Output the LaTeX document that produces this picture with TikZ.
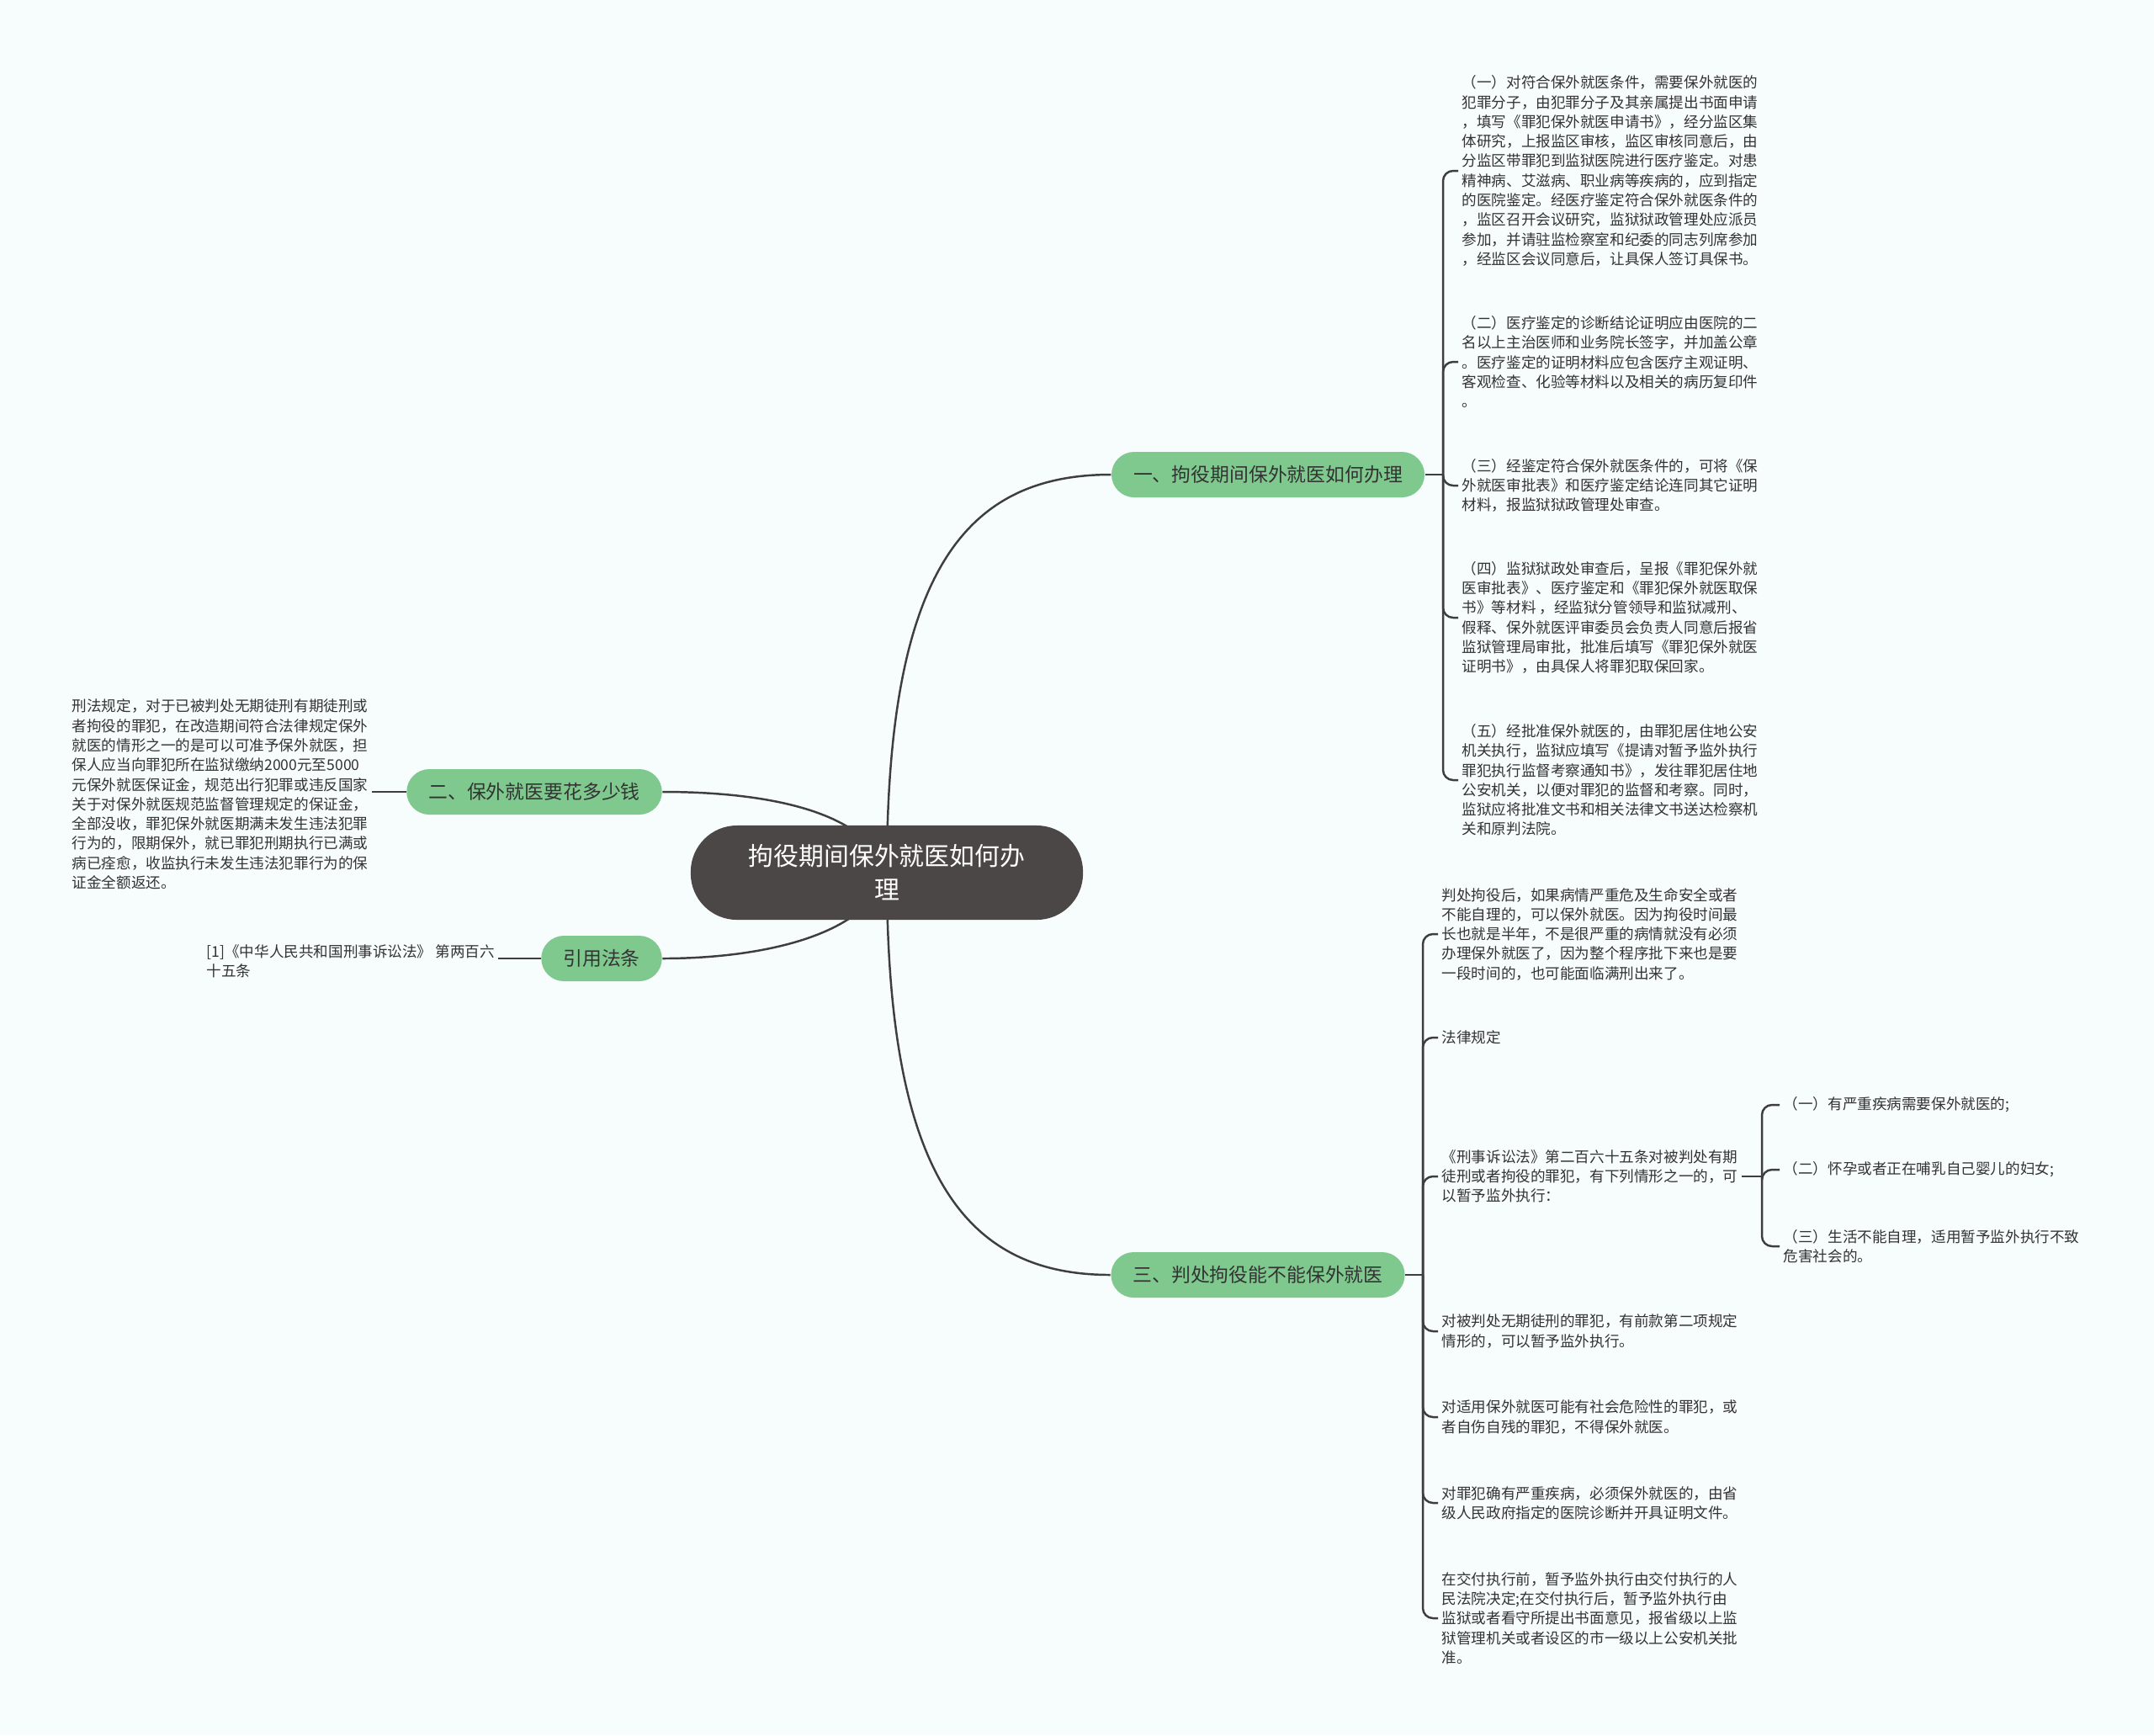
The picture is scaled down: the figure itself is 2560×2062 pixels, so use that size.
\documentclass[tikz,border=0pt]{standalone}
\usepackage{fontspec}
\setmainfont{Noto Sans CJK SC}
\usepackage{tikz}
\usepackage{xcolor}
\definecolor{paperWhite}{RGB}{247,252,253}
\definecolor{rootGray}{RGB}{76,71,71}
\definecolor{topicGreen}{RGB}{127,201,143}
\definecolor{darkText}{RGB}{51,51,51}
\definecolor{linkGray}{RGB}{62,62,62}
\pgfdeclarelayer{paper}
\pgfdeclarelayer{links}
\pgfsetlayers{paper,links,main}
\tikzset{
    rootnode/.style={
        rectangle,
        fill=rootGray,
        rounded corners=0.55cm,
        align=center,
        text=white,
        minimum width=4.66cm,
        minimum height=1.12cm,
        font=\fontsize{8.5pt}{11.4pt}\selectfont
    },
    topic/.style={
        rectangle,
        fill=topicGreen,
        rounded corners=0.27cm,
        align=center,
        text=darkText,
        inner xsep=0.26cm,
        minimum height=0.54cm,
        font=\fontsize{6.5pt}{8pt}\selectfont
    },
    leaf/.style={
        anchor=west,
        align=left,
        inner xsep=0.04cm,
        inner ysep=0pt,
        text=darkText,
        font=\fontsize{5pt}{6.62pt}\selectfont
    },
    link/.style={draw=linkGray, line width=0.7pt},
    brace/.style={link, rounded corners=0.12cm}
}

\begin{document}
\begin{tikzpicture}[x=0.01cm, y=-0.01cm]
    \begin{pgfonlayer}{paper}
        \fill[paperWhite] (0,0) rectangle (2560,2062);
    \end{pgfonlayer}

    % centre and main topics
    \node[rootnode] (root) at (1054,1037) {拘役期间保外就医如何办\\理};
    \node[topic] (b1) at (1507,564) {一、拘役期间保外就医如何办理};
    \node[topic] (b2) at (635,941) {二、保外就医要花多少钱};
    \node[topic] (b3) at (715,1139) {引用法条};
    \node[topic] (b4) at (1495,1515) {三、判处拘役能不能保外就医};

    % branch one
    \node[leaf] (la) at (1733,203) {（一）对符合保外就医条件，需要保外就医的\\
    犯罪分子，由犯罪分子及其亲属提出书面申请\\
    ，填写《罪犯保外就医申请书》，经分监区集\\
    体研究，上报监区审核，监区审核同意后，由\\
    分监区带罪犯到监狱医院进行医疗鉴定。对患\\
    精神病、艾滋病、职业病等疾病的，应到指定\\
    的医院鉴定。经医疗鉴定符合保外就医条件的\\
    ，监区召开会议研究，监狱狱政管理处应派员\\
    参加，并请驻监检察室和纪委的同志列席参加\\
    ，经监区会议同意后，让具保人签订具保书。};
    \node[leaf] (lb) at (1733,430) {（二）医疗鉴定的诊断结论证明应由医院的二\\
    名以上主治医师和业务院长签字，并加盖公章\\
    。医疗鉴定的证明材料应包含医疗主观证明、\\
    客观检查、化验等材料以及相关的病历复印件\\
    。};
    \node[leaf] (lc) at (1733,577) {（三）经鉴定符合保外就医条件的，可将《保\\
    外就医审批表》和医疗鉴定结论连同其它证明\\
    材料，报监狱狱政管理处审查。};
    \node[leaf] (ld) at (1733,734) {（四）监狱狱政处审查后，呈报《罪犯保外就\\
    医审批表》、医疗鉴定和《罪犯保外就医取保\\
    书》等材料 ，经监狱分管领导和监狱减刑、\\
    假释、保外就医评审委员会负责人同意后报省\\
    监狱管理局审批，批准后填写《罪犯保外就医\\
    证明书》，由具保人将罪犯取保回家。};
    \node[leaf] (le) at (1733,927) {（五）经批准保外就医的，由罪犯居住地公安\\
    机关执行，监狱应填写《提请对暂予监外执行\\
    罪犯执行监督考察通知书》，发往罪犯居住地\\
    公安机关，以便对罪犯的监督和考察。同时，\\
    监狱应将批准文书和相关法律文书送达检察机\\
    关和原判法院。};

    % branch two and the cited law
    \node[leaf] (lcost) at (81,944) {刑法规定，对于已被判处无期徒刑有期徒刑或\\
    者拘役的罪犯，在改造期间符合法律规定保外\\
    就医的情形之一的是可以可准予保外就医，担\\
    保人应当向罪犯所在监狱缴纳2000元至5000\\
    元保外就医保证金，规范出行犯罪或违反国家\\
    关于对保外就医规范监督管理规定的保证金，\\
    全部没收，罪犯保外就医期满未发生违法犯罪\\
    行为的，限期保外，就已罪犯刑期执行已满或\\
    病已痊愈，收监执行未发生违法犯罪行为的保\\
    证金全额返还。};
    \node[leaf] (lcite) at (241,1142) {[1]《中华人民共和国刑事诉讼法》 第两百六\\
    十五条};

    % branch three
    \node[leaf] (lf) at (1709,1110) {判处拘役后，如果病情严重危及生命安全或者\\
    不能自理的，可以保外就医。因为拘役时间最\\
    长也就是半年，不是很严重的病情就没有必须\\
    办理保外就医了，因为整个程序批下来也是要\\
    一段时间的，也可能面临满刑出来了。};
    \node[leaf] (lg) at (1709,1233) {法律规定};
    \node[leaf] (lh) at (1709,1398) {《刑事诉讼法》第二百六十五条对被判处有期\\
    徒刑或者拘役的罪犯，有下列情形之一的，可\\
    以暂予监外执行：};
    \node[leaf] (li) at (1709,1582) {对被判处无期徒刑的罪犯，有前款第二项规定\\
    情形的，可以暂予监外执行。};
    \node[leaf] (lj) at (1709,1684) {对适用保外就医可能有社会危险性的罪犯，或\\
    者自伤自残的罪犯，不得保外就医。};
    \node[leaf] (lk) at (1709,1786) {对罪犯确有严重疾病，必须保外就医的，由省\\
    级人民政府指定的医院诊断并开具证明文件。};
    \node[leaf] (ll) at (1709,1923) {在交付执行前，暂予监外执行由交付执行的人\\
    民法院决定;在交付执行后，暂予监外执行由\\
    监狱或者看守所提出书面意见，报省级以上监\\
    狱管理机关或者设区的市一级以上公安机关批\\
    准。};

    \node[leaf] (s1) at (2115,1313) {（一）有严重疾病需要保外就医的;};
    \node[leaf] (s2) at (2115,1390) {（二）怀孕或者正在哺乳自己婴儿的妇女;};
    \node[leaf] (s3) at (2115,1481) {（三）生活不能自理，适用暂予监外执行不致\\
    危害社会的。};

    \coordinate (j1) at (1715,564);
    \coordinate (j4) at (1691,1515);
    \coordinate (jh) at (2094,1398);

    \begin{pgfonlayer}{links}
        \draw[link] (root.center) .. controls (1054,686) and (1143,564) .. (b1.west);
        \draw[link] (root.center) .. controls (1054,1390) and (1143,1515) .. (b4.west);
        \draw[link] (root.center) .. controls (1030,960) and (900,941) .. (b2.east);
        \draw[link] (root.center) .. controls (1030,1114) and (900,1139) .. (b3.east);
    \end{pgfonlayer}

    \draw[link] (b1.east) -- (j1);
    \draw[brace] (j1) |- (la.west);
    \draw[brace] (j1) |- (lb.west);
    \draw[brace] (j1) |- (lc.west);
    \draw[brace] (j1) |- (ld.west);
    \draw[brace] (j1) |- (le.west);

    \draw[link] (b2.west) -- (b2.west -| lcost.east);
    \draw[link] (b3.west) -- (b3.west -| lcite.east);

    \draw[link] (b4.east) -- (j4);
    \draw[brace] (j4) |- (lf.west);
    \draw[brace] (j4) |- (lg.west);
    \draw[brace] (j4) |- (lh.west);
    \draw[brace] (j4) |- (li.west);
    \draw[brace] (j4) |- (lj.west);
    \draw[brace] (j4) |- (lk.west);
    \draw[brace] (j4) |- (ll.west);

    \draw[link] (lh.east) -- (jh);
    \draw[brace] (jh) |- (s1.west);
    \draw[brace] (jh) |- (s2.west);
    \draw[brace] (jh) |- (s3.west);
\end{tikzpicture}
\end{document}
